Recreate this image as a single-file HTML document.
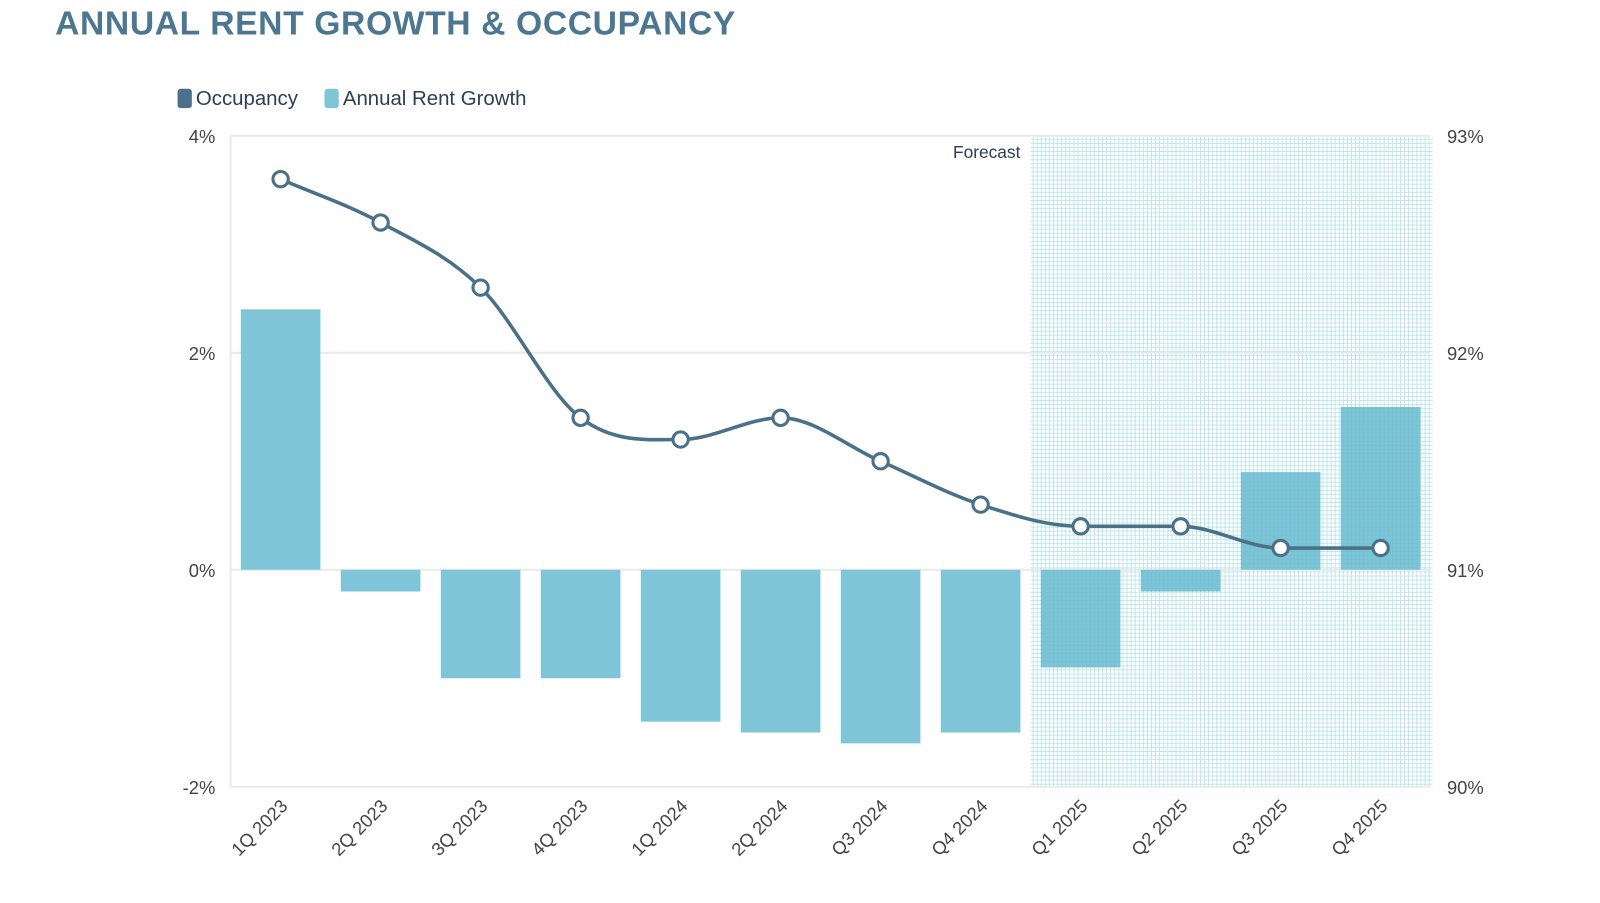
<!DOCTYPE html>
<html><head><meta charset="utf-8"><style>
body{margin:0;background:#fff;width:1600px;height:898px;overflow:hidden;font-family:"Liberation Sans",sans-serif}
</style></head><body>
<svg id="c" width="1600" height="898" viewBox="0 0 1568 880" xmlns="http://www.w3.org/2000/svg">
<defs><pattern id="grid" width="4" height="4" patternUnits="userSpaceOnUse"><rect width="4" height="4" fill="#fff"/><path d="M0 0.5H4M0.5 0V4" stroke="#b8e2e6" stroke-width="0.8"/></pattern></defs>
<text x="54" y="34" font-size="33" font-weight="bold" letter-spacing="0.6" fill="#4d7690">ANNUAL RENT GROWTH &amp; OCCUPANCY</text>
<g>
<rect x="174" y="87" width="14" height="19" rx="3" fill="#4c7089"/>
<text x="192" y="103" font-size="20" fill="#2b3e55">Occupancy</text>
<rect x="318" y="87" width="14" height="19" rx="3" fill="#7ec5d7"/>
<text x="336" y="103" font-size="20" fill="#2b3e55">Annual Rent Growth</text>
</g>
<g id="plot"></g>
</svg>
<script>
const categories=["1Q 2023","2Q 2023","3Q 2023","4Q 2023","1Q 2024","2Q 2024","Q3 2024","Q4 2024","Q1 2025","Q2 2025","Q3 2025","Q4 2025"];
const rentGrowth=[2.4,-0.2,-1.0,-1.0,-1.4,-1.5,-1.6,-1.5,-0.9,-0.2,0.9,1.5];
const occupancy=[92.8,92.6,92.3,91.7,91.6,91.7,91.5,91.3,91.2,91.2,91.1,91.1];
const leftTicks=[4,2,0,-2];
const rightTicks=[93,92,91,90];
const forecastStart=8;
const NS="http://www.w3.org/2000/svg";
const L=226,R=1402,T=133,B=771,step=(R-L)/categories.length;
const yL=v=>T+(4-v)/6*(B-T);
const yR=v=>T+(93-v)/3*(B-T);
const xC=i=>L+step*(i+0.5);
const g=document.getElementById('plot');
function el(t,a){const e=document.createElementNS(NS,t);for(const k in a)e.setAttribute(k,a[k]);g.appendChild(e);return e;}
let fr=el('rect',{x:L+step*forecastStart,y:T,width:R+2-(L+step*forecastStart),height:B-T,fill:'url(#grid)'});


let ft=el('text',{x:L+step*forecastStart-10,y:155,'font-size':17,fill:'#2b3e55','text-anchor':'end'});ft.textContent='Forecast';


leftTicks.forEach((v,i)=>{
 const y=yL(v);
 let ln=el('line',{x1:L,x2:R,y1:y,y2:y,stroke:'#eaeaea','stroke-width':2});
 
 
 let t=el('text',{x:211,y:y+7,'font-size':18,fill:'#444','text-anchor':'end'});t.textContent=v+'%';
 
 
});
rightTicks.forEach(v=>{
 let t=el('text',{x:1418,y:yR(v)+7,'font-size':18,fill:'#444'});t.textContent=v+'%';
 
 
});
el('line',{x1:L,x2:L,y1:T,y2:B,stroke:'#eaeaea','stroke-width':2});
const bw=78;
rentGrowth.forEach((v,i)=>{
 const y0=yL(0),y1=yL(v);
 let r=el('rect',{x:xC(i)-bw/2,y:Math.min(y0,y1),width:bw,height:Math.abs(y1-y0),fill:i>=forecastStart?'rgba(110,190,210,0.9)':'#7ec5d7'});
 
 
});
categories.forEach((c,i)=>{
 const x=xC(i)+8,y=B+20;
 let t=el('text',{x:x,y:y,'font-size':18,fill:'#444','text-anchor':'end',transform:`rotate(-45 ${x} ${y})`});t.textContent=c;
 
 
});
const pts=occupancy.map((v,i)=>[xC(i),yR(v)]);
let d='M'+pts[0][0]+' '+pts[0][1];
for(let i=0;i<pts.length-1;i++){
 const p0=pts[Math.max(0,i-1)],p1=pts[i],p2=pts[i+1],p3=pts[Math.min(pts.length-1,i+2)];
 let m1=(p2[1]-p0[1])/(p2[0]-p0[0]),m2=(p3[1]-p1[1])/(p3[0]-p1[0]);
 const s=(p2[1]-p1[1])/(p2[0]-p1[0]);
 if(p1!==p0&&(p1[1]-p0[1])*(p2[1]-p1[1])<=0) m1=0;
 if(p3!==p2&&(p2[1]-p1[1])*(p3[1]-p2[1])<=0) m2=0;
 if(s===0){m1=0;m2=0;}
 const h=(p2[0]-p1[0])/3;
 d+=` C${p1[0]+h} ${p1[1]+m1*h} ${p2[0]-h} ${p2[1]-m2*h} ${p2[0]} ${p2[1]}`;
}
let line=el('path',{d:d,fill:'none',stroke:'#4a7188','stroke-width':3.5});


pts.forEach((p,i)=>{
 let c=el('circle',{cx:p[0],cy:p[1],r:7.5,fill:'#fff',stroke:'#4a7188','stroke-width':3});
 
 
});
</script>
</body></html>
